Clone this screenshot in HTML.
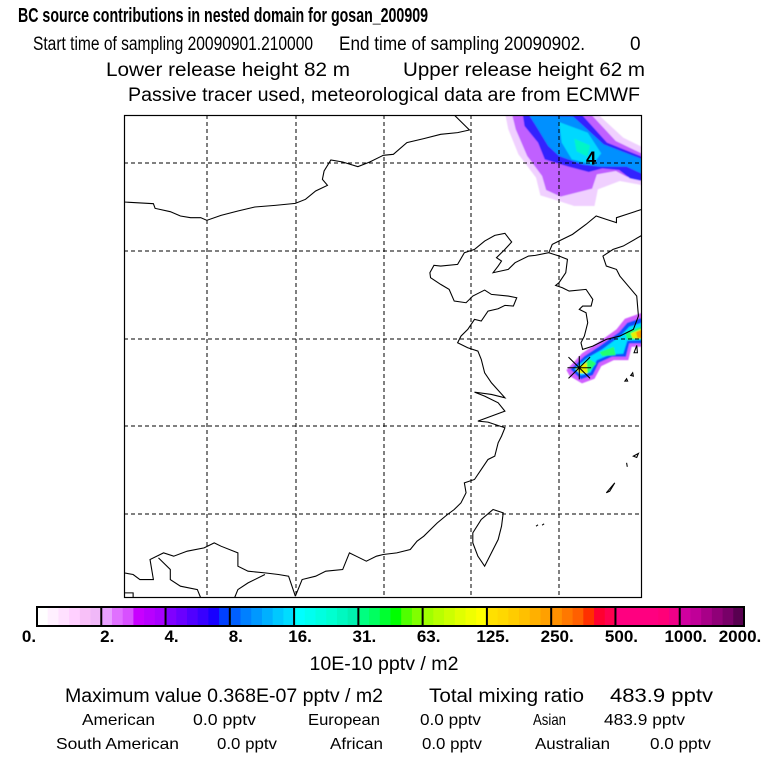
<!DOCTYPE html>
<html><head><meta charset="utf-8"><style>
html,body{margin:0;padding:0;background:#fff;}
svg{display:block;font-family:"Liberation Sans",Arial,sans-serif;}
</style></head><body>
<svg width="768" height="768" viewBox="0 0 768 768">
<defs><filter id="bl" x="-10%" y="-10%" width="120%" height="120%"><feGaussianBlur stdDeviation="1.8"/></filter>
<clipPath id="mapclip"><rect x="124" y="115" width="518" height="483"/></clipPath></defs>

<g fill="#000">
<text x="18" y="22" font-size="20" font-weight="bold" textLength="410" lengthAdjust="spacingAndGlyphs">BC  source contributions in nested domain for gosan_200909</text>
<text x="33" y="50" font-size="19" textLength="280" lengthAdjust="spacingAndGlyphs">Start time of sampling 20090901.210000</text>
<text x="339" y="50" font-size="19" textLength="246" lengthAdjust="spacingAndGlyphs">End time of sampling 20090902.</text>
<text x="630" y="50" font-size="19">0</text>
<text x="106" y="76" font-size="19" textLength="244" lengthAdjust="spacingAndGlyphs">Lower release height   82 m</text>
<text x="403" y="76" font-size="19" textLength="242" lengthAdjust="spacingAndGlyphs">Upper release height   62 m</text>
<text x="128" y="101" font-size="19" textLength="512" lengthAdjust="spacingAndGlyphs">Passive tracer used, meteorological data are from ECMWF</text>
</g>

<g clip-path="url(#mapclip)">
<rect x="124" y="115" width="518" height="483" fill="#fff"/>
<g transform="translate(119.6,109.3) scale(0.338,0.3335)">
<g filter="url(#bl)">
<path fill="#f0d0ff" d="M1140,10 L1410,10 1490,85 1560,120 1560,230 1480,215 1415,240 1405,290 1345,290 1290,272 1245,258 1232,205 1180,135 1150,60Z"/>
<path fill="#c060ff" d="M1160,10 L1390,10 1468,95 1560,140 1560,215 1500,202 1468,185 1412,195 1398,238 1305,262 1262,242 1250,200 1206,140 1172,60Z"/>
<path fill="#3020ff" d="M1192,10 L1362,10 1442,100 1560,148 1560,218 1510,207 1478,182 1428,177 1388,188 1328,172 1258,150 1238,100 1198,50Z"/>
<path fill="#0090ff" d="M1212,18 L1342,22 1432,105 1560,155 1560,200 1500,172 1420,172 1370,166 1300,140 1268,110 1238,60Z"/>
<path fill="#00d8ff" d="M1300,38 L1385,70 1425,132 1400,165 1338,150 1308,100Z"/>
<path fill="#00f5c8" d="M1345,88 L1392,108 1384,142 1352,126Z"/>
</g>
<g filter="url(#bl)">
<path fill="#d060ff" d="M1322,782 L1368,732 1415,700 1470,660 1495,628 1560,605 1560,712 1515,712 1505,752 1462,752 1425,770 1405,808 1368,822 1332,800Z"/>
<path fill="#1050ff" d="M1334,780 L1375,740 1420,710 1478,668 1502,640 1560,620 1560,702 1508,702 1498,742 1457,742 1418,760 1400,797 1365,810Z"/>
<path fill="#00e0ff" d="M1345,778 L1383,746 1428,720 1484,678 1508,652 1560,635 1560,692 1502,694 1490,733 1452,735 1412,752 1393,789 1365,798Z"/>
<path fill="#20ff70" d="M1350,776 L1392,750 1410,762 1385,792Z M1420,728 L1462,712 1468,737 1428,740Z M1495,670 L1560,645 1560,690 1502,690Z"/>
<path fill="#e8f000" d="M1350,778 L1382,758 1384,792 1360,792Z M1512,672 L1560,652 1560,687 1518,687Z"/>
<path fill="#ffa000" d="M1528,668 L1560,656 1560,686 1532,686Z"/>
</g>
<g fill="none" stroke="#000" stroke-width="3.2">
<path d="M13,278 L100,283 105,297 150,307 180,320 210,325 240,325 258,333 300,318 350,305 400,293 460,288 520,282 550,270 580,245 615,228 600,210 605,185 625,152 660,158 705,172 740,158 780,138 810,135 850,100 900,88 950,75 1000,70 1035,62 990,17"/>
<path d="M1545,300 L1500,315 1470,325 1470,340 1440,330 1410,320 1380,345 1340,375 1300,395 1280,405 1270,430 1230,438 1210,440 1170,460 1150,480 1105,490 1120,470 1130,455 1115,445 1140,420 1160,398 1140,372 1110,378 1080,395 1050,420 1020,430 1000,465 950,470 930,468 918,490 920,505 950,525 975,540 990,575 1025,580 1045,560 1080,542 1100,555 1150,560 1175,565 1165,590 1140,588 1120,598 1090,605 1070,635 1050,630 1030,660 1010,680 1000,700 1030,715 1060,725 1070,750 1080,790 1100,820 1140,865 1100,855 1050,848 1080,860 1120,880 1140,905 1100,920 1060,935 1090,938 1140,955 1130,980 1120,1000 1110,1040 1090,1050 1070,1080 1050,1110 1020,1120 1025,1150 1010,1180 990,1200 970,1215 940,1240 920,1260 900,1280 880,1295 860,1320 820,1330 780,1335 760,1340 730,1355 700,1340 680,1330 660,1380 610,1385 580,1400 540,1410 520,1460"/>
<path d="M13,1390 L40,1395 60,1410 100,1410 90,1350 130,1330 160,1340 200,1325 250,1315 280,1300 300,1310 350,1330 350,1370 380,1385 430,1390 470,1395 500,1400 510,1430 520,1460"/>
<path d="M115,1345 L150,1380 150,1410 180,1430 230,1440 240,1465 M340,1465 L350,1440 380,1420 430,1395 M13,1450 L40,1450 40,1465"/>
<path d="M1270,430 L1300,440 1325,450 1320,490 1300,520 1290,528 1310,535 1330,545 1380,540 1400,570 1395,590 1370,590 1360,600 1380,610 1385,640 1375,680 1365,700 1370,720 1400,710 1440,690 1480,680 1520,660 1535,620 1530,560 1480,500 1470,480 1440,470 1430,440 1460,420 1490,410 1545,378"/>
<path d="M1105,1200 L1135,1210 1130,1250 1120,1290 1100,1330 1080,1370 1060,1340 1045,1300 1045,1270 1070,1230 1105,1200Z"/>
<path d="M1440,1150 L1465,1120 1450,1145Z M1520,1040 L1535,1032 1530,1044Z M1495,815 L1500,808 1503,815Z M1512,798 L1518,790 1520,800Z M1522,730 L1530,708 1532,730Z M1232,1250 l6,-4 M1250,1247 l6,-4 M1500,1060 l2,12"/>
</g>
<g stroke="#000" stroke-width="3.2">
<path d="M1325,775 L1395,775 M1360,740 L1360,810 M1328,743 L1392,807 M1328,807 L1392,743"/>
</g>
<text x="1380" y="165" font-size="54" font-weight="bold" fill="#000">4</text>
</g>
<g stroke="#000" stroke-width="1" stroke-dasharray="4,3">
<path d="M207,115V598 M296,115V598 M384,115V598 M471,115V598 M559,115V598"/>
<path d="M124,163H642 M124,251H642 M124,339H642 M124,426H642 M124,514H642"/>
</g>
</g>
<rect x="124.5" y="115.5" width="517" height="482" fill="none" stroke="#000" stroke-width="1.2"/>

<g id="cbar"></g>
<g font-size="17" font-weight="bold" text-anchor="middle" id="cblab"></g>
<text x="384" y="670" font-size="19" text-anchor="middle" textLength="149" lengthAdjust="spacingAndGlyphs">10E-10 pptv / m2</text>

<g fill="#000">
<text x="65" y="702" font-size="19" textLength="318" lengthAdjust="spacingAndGlyphs">Maximum value  0.368E-07 pptv / m2</text>
<text x="429" y="702" font-size="19" textLength="155" lengthAdjust="spacingAndGlyphs">Total mixing ratio</text>
<text x="610" y="702" font-size="19" textLength="103" lengthAdjust="spacingAndGlyphs">483.9 pptv</text>
<g font-size="16">
<text x="82" y="725" textLength="73" lengthAdjust="spacingAndGlyphs">American</text>
<text x="193" y="725" textLength="63" lengthAdjust="spacingAndGlyphs">0.0 pptv</text>
<text x="308" y="725" textLength="72" lengthAdjust="spacingAndGlyphs">European</text>
<text x="420" y="725" textLength="61" lengthAdjust="spacingAndGlyphs">0.0 pptv</text>
<text x="533" y="725" textLength="33" lengthAdjust="spacingAndGlyphs">Asian</text>
<text x="604" y="725" textLength="81" lengthAdjust="spacingAndGlyphs">483.9 pptv</text>
<text x="56" y="749" textLength="123" lengthAdjust="spacingAndGlyphs">South American</text>
<text x="217" y="749" textLength="60" lengthAdjust="spacingAndGlyphs">0.0 pptv</text>
<text x="330" y="749" textLength="53" lengthAdjust="spacingAndGlyphs">African</text>
<text x="422" y="749" textLength="60" lengthAdjust="spacingAndGlyphs">0.0 pptv</text>
<text x="535" y="749" textLength="75" lengthAdjust="spacingAndGlyphs">Australian</text>
<text x="650" y="749" textLength="61" lengthAdjust="spacingAndGlyphs">0.0 pptv</text>
</g>
</g>
</svg>
<script>
const levelLabels = ["0.","2.","4.","8.","16.","31.","63.","125.","250.","500.","1000.","2000."];
const segColors = [
 ["#ffffff","#fff0ff","#ffe0ff","#ffd0ff","#f8c0f8","#f0b8f8"],
 ["#e8a0ff","#e070ff","#d850ff","#c800ff","#b800ff","#a800ff"],
 ["#8000ff","#6a00ff","#5000ff","#3800ff","#1800ff","#0040ff"],
 ["#0060ff","#0080ff","#0098ff","#00b0ff","#00c8ff","#00dcff"],
 ["#00ffff","#00fff0","#00ffe0","#00ffd0","#00f8c0","#00f0b0"],
 ["#00ff80","#00ff60","#00ff30","#00ff00","#50ff00","#80ff00"],
 ["#a0ff00","#b8ff00","#ccff00","#e0ff00","#f0ff00","#ffff00"],
 ["#ffe000","#ffd800","#ffcc00","#ffc000","#ffb000","#ffa000"],
 ["#ff9000","#ff7800","#ff6000","#ff3000","#ff0030","#ff0050"],
 ["#ff0080","#ff0080","#ff0080","#ff0080","#ff0078","#f00088"],
 ["#d000a0","#c00098","#a80088","#900078","#780068","#580050"]
];
const NS="http://www.w3.org/2000/svg";
const cx0=37, cx1=744, cy=607, ch=19;
const segW=(cx1-cx0)/segColors.length;
function xOf(i){return cx0+i*segW;}
const cb=document.getElementById('cbar');
segColors.forEach((cols,i)=>{
  const sw=segW/cols.length;
  cols.forEach((c,j)=>{
    const r=document.createElementNS(NS,'rect');
    r.setAttribute('x',xOf(i)+j*sw);r.setAttribute('y',cy);
    r.setAttribute('width',sw+0.5);r.setAttribute('height',ch);r.setAttribute('fill',c);
    
    
    cb.appendChild(r);
  });
});
levelLabels.forEach((t,i)=>{
  const l=document.createElementNS(NS,'line');
  l.setAttribute('x1',xOf(i));l.setAttribute('x2',xOf(i));l.setAttribute('y1',cy);l.setAttribute('y2',cy+ch);
  l.setAttribute('stroke','#000');l.setAttribute('stroke-width','2');
  
  
  cb.appendChild(l);
});
const fr=document.createElementNS(NS,'rect');
fr.setAttribute('x',cx0);fr.setAttribute('y',cy);fr.setAttribute('width',cx1-cx0);fr.setAttribute('height',ch);
fr.setAttribute('fill','none');fr.setAttribute('stroke','#000');fr.setAttribute('stroke-width','2');


cb.appendChild(fr);
const lg=document.getElementById('cblab');
levelLabels.forEach((t,i)=>{
  const tx=document.createElementNS(NS,'text');
  let x=xOf(i)+6; if(i===0)x=29; if(i===levelLabels.length-1)x=740;
  tx.setAttribute('x',x);tx.setAttribute('y',642);tx.textContent=t;
  
  
  lg.appendChild(tx);
});
</script>
</body></html>
